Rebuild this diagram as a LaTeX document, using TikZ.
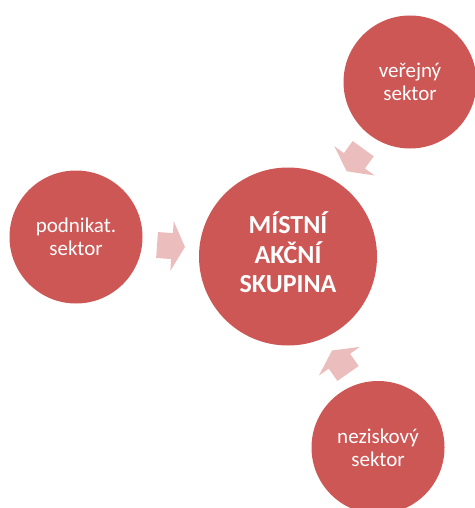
\documentclass[tikz,border=0pt]{standalone}
\usepackage{fontspec}
\setmainfont{Carlito}
\definecolor{circred}{HTML}{CD5755}
\definecolor{arrpink}{HTML}{EBBEBD}
\tikzset{
  bigcirc/.style={circle, fill=circred, inner sep=0pt, minimum size=178pt},
  bigtext/.style={text=white, align=center, inner sep=0pt, font=\fontsize{26}{29.5}\selectfont\bfseries},
  smallcirc/.style={circle, fill=circred, inner sep=0pt, minimum size=133pt, text=white, align=center,
    font=\fontsize{21}{23}\selectfont},
  blockarrow/.style={fill=arrpink, draw=none}
}
\newcommand{\blockarrowpath}{(-14,-13) -- (1,-13) -- (1,-25) -- (14,0) -- (1,25) -- (1,13) -- (-14,13) -- cycle}
\begin{document}
\begin{tikzpicture}[x=1pt,y=-1pt]
\useasboundingbox (0,0) rectangle (474,508);
\node[bigcirc] (mas) at (288,256.5) {};
\node[bigtext] (mastext) at (288,252.5) {MÍSTNÍ\\AKČNÍ\\SKUPINA};
\node[smallcirc] (ver) at (410,82) {veřejný\\sektor};
\node[smallcirc] (pod) at (76,237) {podnikat.\\sektor};
\node[smallcirc] (nez) at (378,447.5) {neziskový\\sektor};
\coordinate (apod) at (171,246);
\coordinate (aver) at (355,160);
\coordinate (anez) at (340,362);
\fill[blockarrow, shift={(apod)}, rotate=-4] \blockarrowpath;
\fill[blockarrow, shift={(aver)}, rotate=234] \blockarrowpath;
\fill[blockarrow, shift={(anez)}, rotate=125] \blockarrowpath;
\end{tikzpicture}
\end{document}
